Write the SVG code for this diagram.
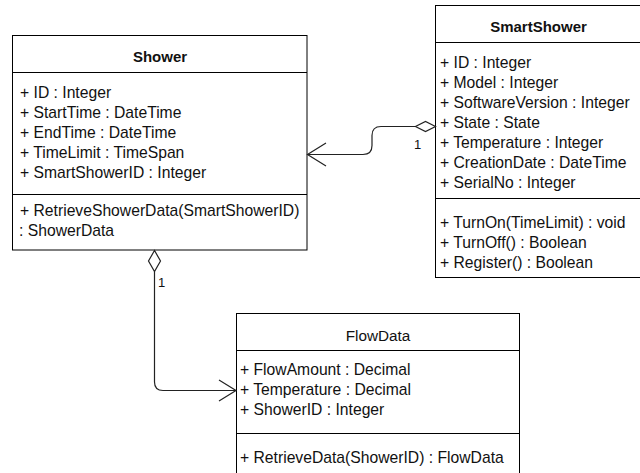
<svg xmlns="http://www.w3.org/2000/svg" width="640" height="473" viewBox="0 0 640 473">
  <style>
    .box { fill: #ffffff; stroke: #000000; stroke-width: 1; }
    .sep { stroke: #000000; stroke-width: 1; }
    .txt { font-family: "Liberation Sans", Arial, sans-serif; font-size: 15.7px; fill: #111111; }
    .title { font-family: "Liberation Sans", Arial, sans-serif; font-size: 15.3px; fill: #111111; text-anchor: middle; }
    .bold { font-weight: bold; font-size: 15px; }
    .edge { fill: none; stroke: #222222; stroke-width: 1.2; }
    .diamond { fill: #ffffff; stroke: #222222; stroke-width: 1.2; }
    .mult { font-family: "Liberation Sans", Arial, sans-serif; font-size: 13px; fill: #111111; }
  </style>
  <rect width="640" height="473" fill="#ffffff"/>

  <!-- class Shower -->
  <g id="shower">
    <rect class="box" x="12.5" y="35.5" width="294.5" height="214.5"/>
    <line class="sep" x1="12.5" y1="72.5" x2="307" y2="72.5"/>
    <line class="sep" x1="12.5" y1="194.5" x2="307" y2="194.5"/>
    <text class="title bold" x="160" y="62">Shower</text>
    <text class="txt" x="20" y="97.5">+ ID : Integer</text>
    <text class="txt" x="20" y="117.5">+ StartTime : DateTime</text>
    <text class="txt" x="20" y="137.5">+ EndTime : DateTime</text>
    <text class="txt" x="20" y="157.5">+ TimeLimit : TimeSpan</text>
    <text class="txt" x="20" y="177.5">+ SmartShowerID : Integer</text>
    <text class="txt" x="20" y="215.5">+ RetrieveShowerData(SmartShowerID)</text>
    <text class="txt" x="19" y="235.5">: ShowerData</text>
  </g>

  <!-- class SmartShower -->
  <g id="smartshower">
    <rect class="box" x="435.5" y="5.5" width="206" height="272"/>
    <line class="sep" x1="435.5" y1="42.5" x2="641.5" y2="42.5"/>
    <line class="sep" x1="435.5" y1="198.5" x2="641.5" y2="198.5"/>
    <text class="title bold" x="538.5" y="32">SmartShower</text>
    <text class="txt" x="440" y="67.5">+ ID : Integer</text>
    <text class="txt" x="440" y="87.5">+ Model : Integer</text>
    <text class="txt" x="440" y="107.5">+ SoftwareVersion : Integer</text>
    <text class="txt" x="440" y="127.5">+ State : State</text>
    <text class="txt" x="440" y="147.5">+ Temperature : Integer</text>
    <text class="txt" x="440" y="167.5">+ CreationDate : DateTime</text>
    <text class="txt" x="440" y="187.5">+ SerialNo : Integer</text>
    <text class="txt" x="440" y="227.5">+ TurnOn(TimeLimit) : void</text>
    <text class="txt" x="440" y="247.5">+ TurnOff() : Boolean</text>
    <text class="txt" x="440" y="267.5">+ Register() : Boolean</text>
  </g>

  <!-- class FlowData -->
  <g id="flowdata">
    <rect class="box" x="236.5" y="313.5" width="283" height="170"/>
    <line class="sep" x1="236.5" y1="350.5" x2="519.5" y2="350.5"/>
    <line class="sep" x1="236.5" y1="433.5" x2="519.5" y2="433.5"/>
    <text class="title" x="378" y="340.5">FlowData</text>
    <text class="txt" x="240" y="375">+ FlowAmount : Decimal</text>
    <text class="txt" x="240" y="395">+ Temperature : Decimal</text>
    <text class="txt" x="240" y="415">+ ShowerID : Integer</text>
    <text class="txt" x="240" y="463">+ RetrieveData(ShowerID) : FlowData</text>
  </g>

  <!-- aggregation connectors -->
  <g id="connectors">
    <!-- SmartShower to Shower -->
    <path class="edge" d="M415.5,126.5 H381 Q372,126.5 372,135.5 V145.5 Q372,154.5 363,154.5 H307.5"/>
    <polyline class="edge" points="326,143 307.5,154.5 326,166"/>
    <polygon class="diamond" points="435.5,126.5 425.5,121.5 415.5,126.5 425.5,131.5"/>
    <text class="mult" x="414" y="148.5">1</text>

    <!-- Shower to FlowData -->
    <path class="edge" d="M154.5,271.5 V382 Q154.5,390.5 163,390.5 H236"/>
    <polyline class="edge" points="219,380 236,390.5 219,401"/>
    <polygon class="diamond" points="154.5,250.5 148.5,261 154.5,271.5 160.5,261"/>
    <text class="mult" x="158" y="286.5">1</text>
  </g>
</svg>
